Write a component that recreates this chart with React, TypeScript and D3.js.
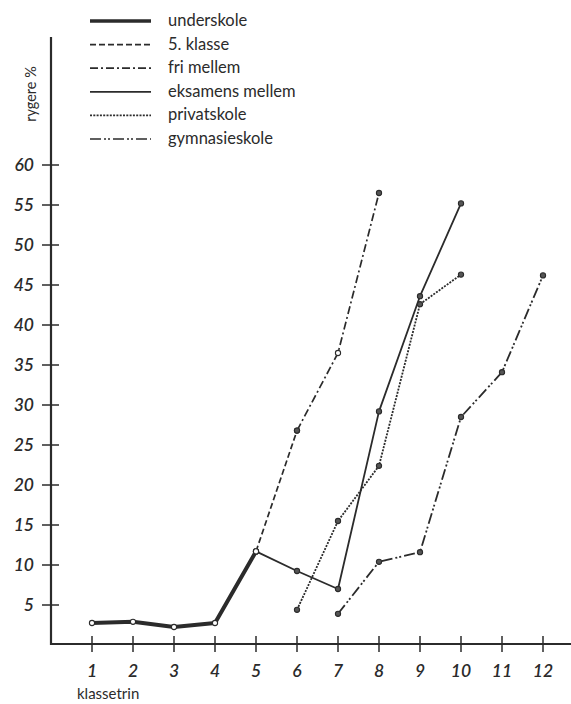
import { useEffect, useRef } from 'react';
import * as d3 from 'd3';

// klassetrin on the x axis, rygere % on the y axis
const classes = [1, 2, 3, 4, 5, 6, 7, 8, 9, 10, 11, 12];
const yTicks = [5, 10, 15, 20, 25, 30, 35, 40, 45, 50, 55, 60];

const underskoleX = [1, 2, 3, 4, 5];
const underskoleY = [2.75, 2.9, 2.25, 2.75, 11.7];

const femteKlasseX = [5, 6];
const femteKlasseY = [11.7, 26.8];

const friMellemX = [6, 7, 8];
const friMellemY = [26.8, 36.5, 56.5];

const eksamensX = [5, 6, 7, 8, 9, 10];
const eksamensY = [11.7, 9.25, 7.0, 29.2, 43.6, 55.2];

const privatX = [6, 7, 8, 9, 10];
const privatY = [4.4, 15.5, 22.4, 42.6, 46.3];

const gymnasieX = [7, 8, 9, 10, 11, 12];
const gymnasieY = [3.9, 10.4, 11.6, 28.5, 34.1, 46.2];

const legendLabels = ['underskole', '5. klasse', 'fri mellem', 'eksamens mellem', 'privatskole', 'gymnasieskole'];

const ink = '#2b2b2b';
const font = 'Lato, "Open Sans", sans-serif';

const styles = [
  { width: 4, dash: null },
  { width: 1.7, dash: '6,3' },
  { width: 1.7, dash: '8,3,2,3' },
  { width: 1.8, dash: null },
  { width: 1.8, dash: '2,1.3' },
  { width: 1.8, dash: '11,3,2,2,2,3' },
];

export default function App() {
  const svgRef = useRef<SVGSVGElement>(null);

  useEffect(() => {
    if (!svgRef.current) return;
    const svg = d3.select(svgRef.current);
    svg.selectAll('*').remove();

    const x = d3.scaleLinear().domain([1, 12]).range([92, 543]);
    const y = d3.scaleLinear().domain([0, 60]).range([645, 165]);
    const axisX = 51;
    const axisY = 644;

    // axes
    svg.append('line')
      .attr('x1', axisX).attr('x2', axisX).attr('y1', 37).attr('y2', axisY + 1)
      .attr('stroke', ink).attr('stroke-width', 2.2);
    svg.append('line')
      .attr('x1', axisX - 1).attr('x2', 571).attr('y1', axisY).attr('y2', axisY)
      .attr('stroke', ink).attr('stroke-width', 2.2);

    const yt = svg.append('g');
    yt.selectAll('line').data(yTicks).enter().append('line')
      .attr('x1', axisX - 9).attr('x2', axisX + 8)
      .attr('y1', d => y(d)).attr('y2', d => y(d))
      .attr('stroke', ink).attr('stroke-width', 1.5);
    yt.selectAll('text').data(yTicks).enter().append('text')
      .attr('x', 34).attr('y', d => y(d)).attr('dy', '0.36em')
      .attr('text-anchor', 'end')
      .attr('font-family', font).attr('font-size', 17.5).attr('font-style', 'italic')
      .attr('font-weight', 600)
      .attr('fill', ink)
      .text(d => d);

    const xt = svg.append('g');
    xt.selectAll('line').data(classes).enter().append('line')
      .attr('x1', d => x(d)).attr('x2', d => x(d))
      .attr('y1', axisY - 8).attr('y2', axisY + 8)
      .attr('stroke', ink).attr('stroke-width', 1.5);
    xt.selectAll('text').data(classes).enter().append('text')
      .attr('x', d => x(d)).attr('y', 677)
      .attr('text-anchor', 'middle')
      .attr('font-family', font).attr('font-size', 17.5).attr('font-style', 'italic')
      .attr('font-weight', 600)
      .attr('fill', ink)
      .text(d => d);

    svg.append('text')
      .attr('x', 77).attr('y', 699)
      .attr('font-family', font).attr('font-size', 15)
      .attr('fill', ink)
      .text('klassetrin');

    svg.append('text')
      .attr('transform', 'translate(36,94) rotate(-90)')
      .attr('text-anchor', 'middle')
      .attr('font-family', font).attr('font-size', 14.5)
      .attr('fill', ink)
      .text('rygere %');

    // series
    const series = [
      { xs: underskoleX, ys: underskoleY, open: [true, true, true, true, true] },
      { xs: femteKlasseX, ys: femteKlasseY, open: [true, false] },
      { xs: friMellemX, ys: friMellemY, open: [false, true, false] },
      { xs: eksamensX, ys: eksamensY, open: [true, false, false, false, false, false] },
      { xs: privatX, ys: privatY, open: [false, false, false, false, false] },
      { xs: gymnasieX, ys: gymnasieY, open: [false, false, false, false, false, false] },
    ];

    const line = d3.line<[number, number]>().x(d => x(d[0])).y(d => y(d[1]));

    series.forEach((s, i) => {
      const pts: [number, number][] = s.xs.map((c, j) => [c, s.ys[j]]);
      svg.append('path')
        .attr('d', line(pts))
        .attr('fill', 'none')
        .attr('stroke', ink)
        .attr('stroke-width', styles[i].width)
        .attr('stroke-dasharray', styles[i].dash)
        .attr('stroke-linejoin', 'round');
    });

    series.forEach((s) => {
      s.xs.forEach((c, j) => {
        svg.append('circle')
          .attr('cx', x(c)).attr('cy', y(s.ys[j]))
          .attr('r', 2.6)
          .attr('fill', s.open[j] ? '#fff' : '#555')
          .attr('stroke', ink)
          .attr('stroke-width', 1.1);
      });
    });

    // legend
    const lg = svg.append('g');
    legendLabels.forEach((label, i) => {
      const ly = 21 + i * 23.6;
      lg.append('line')
        .attr('x1', 90).attr('x2', 151).attr('y1', ly).attr('y2', ly)
        .attr('stroke', ink)
        .attr('stroke-width', i === 0 ? 3.5 : 1.7)
        .attr('stroke-dasharray', styles[i].dash);
      lg.append('text')
        .attr('x', 168).attr('y', ly).attr('dy', '0.3em')
        .attr('font-family', font).attr('font-size', 16.5)
        .attr('fill', ink)
        .text(label);
    });
  }, []);

  return (
    <svg
      ref={svgRef}
      width={571}
      height={704}
      viewBox="0 0 571 704"
      style={{ position: 'absolute', left: 0, top: 0, background: '#fff' }}
    />
  );
}
